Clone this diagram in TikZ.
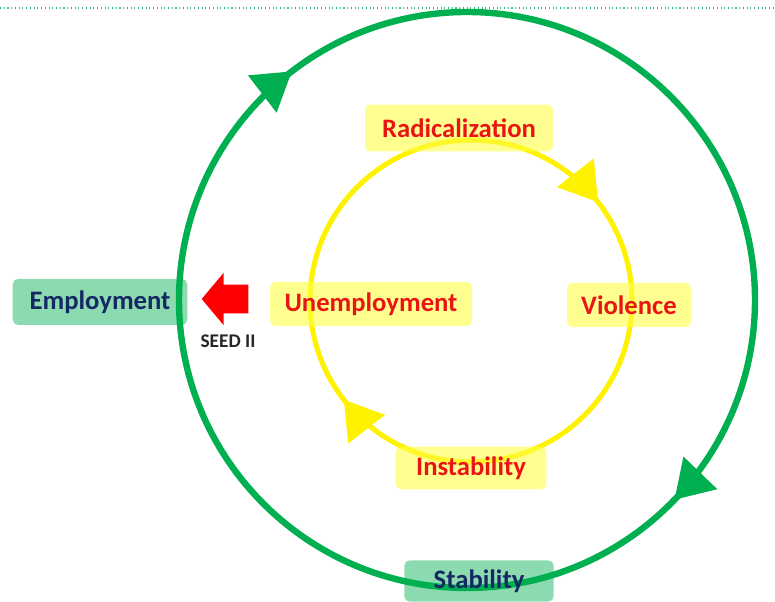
\documentclass[tikz,border=0pt]{standalone}
\usepackage{fontspec}
\setmainfont{Carlito}
\usetikzlibrary{arrows.meta,decorations.markings,shapes.arrows}
\definecolor{ringgreen}{RGB}{0,176,80}
\definecolor{boxyellow}{RGB}{255,255,70}
\definecolor{textred}{RGB}{235,20,20}
\definecolor{textnavy}{RGB}{20,40,100}

\begin{document}
\begin{tikzpicture}[x=0.75pt,y=0.75pt,
  cause/.style={rectangle,rounded corners=4pt,fill=boxyellow,fill opacity=0.6,text opacity=1,
    text=textred,font=\fontsize{20}{23}\selectfont\bfseries,minimum height=33pt,inner sep=2pt},
  goal/.style={cause,fill=ringgreen,fill opacity=0.45,text=textnavy},
  ring/.style={line width=#1,postaction={decorate}},
  ringhead/.tip={Triangle[length=28pt,width=34pt]}]
  \useasboundingbox (0,0) rectangle (775,602);
  \draw[ringgreen!80,dotted,line width=0.8pt] (0,594) -- (775,594);

  % outer cycle
  \draw[ring=4.8pt,ringgreen,decoration={markings,
      mark=at position 0.372 with {\arrow{ringhead}},
      mark=at position 0.896 with {\arrow{ringhead}}}]
    (467,302) ++(90:216pt) arc[start angle=90,end angle=-270,radius=216pt];
  % inner cycle
  \draw[ring=3.8pt,yellow,decoration={markings,
      mark=at position 0.145 with {\arrow{ringhead}},
      mark=at position 0.645 with {\arrow{ringhead}}}]
    (471,301) ++(90:120.75pt) arc[start angle=90,end angle=-270,radius=120.75pt];

  \node[cause,minimum width=141pt,minimum height=35pt] (rad) at (459,474) {Radicalization};
  \node[cause,minimum width=93pt] (viol) at (629,297) {Violence};
  \node[cause,minimum width=113pt,minimum height=32pt] (inst) at (471,134) {Instability};
  \node[cause,minimum width=151.5pt] (unemp) at (371,298) {Unemployment};

  \node[goal,minimum width=131pt,minimum height=34.5pt] (emp) at (100,300) {Employment};
  \node[goal,minimum width=112pt,minimum height=31pt] (stab) at (479,21) {Stability};

  \node[single arrow,shape border rotate=180,fill=red,inner xsep=0pt,inner ysep=10.5pt,
    minimum height=35pt,single arrow head extend=9pt,single arrow tip angle=100] (seedarrow) at (231,303) {};
  \node[font=\fontsize{14.5}{16}\selectfont\bfseries,text=black!85] (seed) at (228,261) {SEED II};
\end{tikzpicture}
\end{document}
